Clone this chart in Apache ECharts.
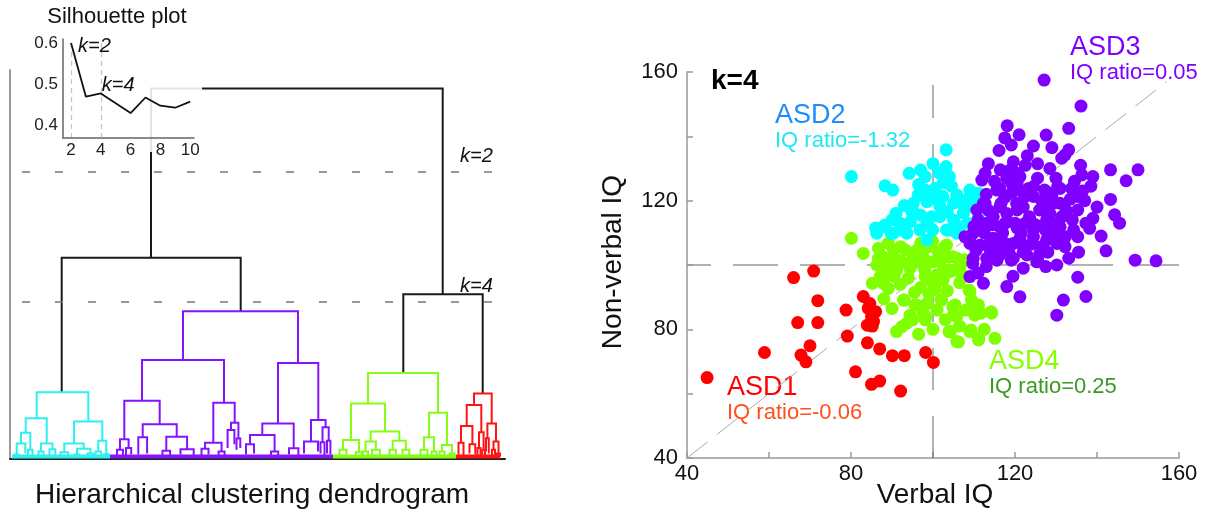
<!DOCTYPE html>
<html>
<head>
<meta charset="utf-8">
<script src="https://cdn.jsdelivr.net/npm/echarts@6/dist/echarts.min.js"></script>
<style>html,body{margin:0;padding:0;background:#fff;}#c{width:1209px;height:517px;}</style>
</head>
<body>
<div id="c"></div>
<script>
// ---------------- DATA ----------------
// Dendrogram links: [xLeft, xRight, mergeHeight, leftChildHeight, rightChildHeight, colorIndex]
const dendroLinks = [
  [141, 432.7, 100, 54.3, 44.5, 0],
  [51.7, 230.7, 54.3, 18.0, 39.9, 0],
  [393.3, 472.7, 44.5, 23.2, 17.7, 0],
  // cyan
  [26.7, 78.3, 18.0, 11.0, 10.1, 1],
  [15.7, 36.7, 11.0, 7.1, 4.2, 1],
  [11, 20.3, 7.1, 4.2, 2.5, 1],
  [6.7, 15.3, 4.2, 1.2, 1.5, 1],
  [4.5, 8.9, 1.2, 0.6, 0.6, 1],
  [18, 22.6, 2.5, 0.8, 1.0, 1],
  [31, 42.4, 4.2, 2.0, 2.6, 1],
  [28.5, 33.5, 2.0, 0.8, 0.8, 1],
  [39.5, 45.3, 2.6, 1.0, 0.8, 1],
  [64, 92.3, 10.1, 4.2, 4.9, 1],
  [54.3, 73.7, 4.2, 1.8, 2.8, 1],
  [50.5, 58.1, 1.8, 0.8, 0.8, 1],
  [67, 80.4, 2.8, 1.2, 1.5, 1],
  [64.5, 69.5, 1.2, 0.6, 0.6, 1],
  [77.5, 83.3, 1.5, 0.6, 0.6, 1],
  [88.3, 96.3, 4.9, 2.0, 1.3, 1],
  [85.5, 91.1, 2.0, 0.8, 0.8, 1],
  [94, 98.6, 1.3, 0.6, 0.6, 1],
  // purple
  [173, 288, 39.9, 26.7, 25.9, 2],
  [132, 214, 26.7, 15.7, 15.2, 2],
  [114.3, 149.7, 15.7, 5.3, 9.4, 2],
  [110, 118.6, 5.3, 2.5, 3.0, 2],
  [107, 113, 2.5, 1.0, 0.8, 2],
  [116, 121.2, 3.0, 1.0, 1.2, 2],
  [132.7, 166.7, 9.4, 5.9, 6.0, 2],
  [128.3, 137.1, 5.9, 1.2, 1.5, 2],
  [156.3, 177.1, 6.0, 2.2, 2.6, 2],
  [152.5, 160.1, 2.2, 0.8, 1.0, 2],
  [170.5, 183.7, 2.6, 1.2, 1.0, 2],
  [203.3, 224.7, 15.2, 4.4, 9.8, 2],
  [195, 211.6, 4.4, 2.8, 2.0, 2],
  [191.5, 198.5, 2.8, 1.0, 1.2, 2],
  [208.6, 214.6, 2.0, 0.8, 0.8, 2],
  [221, 228.4, 9.8, 7.8, 5.5, 2],
  [217.6, 224.4, 7.8, 3.0, 4.0, 2],
  [226.5, 230.3, 5.5, 2.5, 3.0, 2],
  [268, 308.3, 25.9, 9.6, 10.5, 2],
  [252.3, 283.7, 9.6, 6.5, 2.9, 2],
  [240, 264.6, 6.5, 4.0, 2.0, 2],
  [236, 244, 4.0, 1.2, 1.5, 2],
  [261, 268.2, 2.0, 0.8, 1.0, 2],
  [279, 288.4, 2.9, 1.2, 1.0, 2],
  [301, 315.6, 10.5, 4.7, 8.6, 2],
  [294, 308, 4.7, 1.5, 2.0, 2],
  [312.5, 318.7, 8.6, 4.5, 4.9, 2],
  [310.5, 314.5, 4.5, 1.5, 1.0, 2],
  [317, 320.4, 4.9, 1.5, 1.2, 2],
  // green
  [358, 428, 23.2, 15.0, 12.5, 3],
  [341, 375, 15.0, 5.1, 7.4, 3],
  [333, 349, 5.1, 2.5, 1.8, 3],
  [329.5, 336.5, 2.5, 1.0, 1.2, 3],
  [346, 352, 1.8, 0.8, 0.8, 3],
  [360.7, 389.3, 7.4, 4.7, 4.9, 3],
  [355.5, 365.9, 4.7, 2.0, 2.5, 3],
  [353, 358, 2.0, 0.8, 0.8, 3],
  [362, 369.8, 2.5, 1.0, 1.0, 3],
  [382.7, 395.9, 4.9, 2.5, 2.5, 3],
  [379.5, 385.9, 2.5, 1.0, 1.2, 3],
  [392.5, 399.3, 2.5, 1.2, 1.0, 3],
  [419, 437, 12.5, 5.9, 3.8, 3],
  [414, 424, 5.9, 2.5, 2.0, 3],
  [410.5, 417.5, 2.5, 1.0, 1.0, 3],
  [421.5, 426.5, 2.0, 0.8, 0.8, 3],
  [432, 442, 3.8, 2.0, 1.5, 3],
  [429.5, 434.5, 2.0, 0.8, 0.8, 3],
  [439.5, 444.5, 1.5, 0.6, 0.6, 3],
  // red
  [464, 481.7, 17.7, 14.6, 9.6, 4],
  [456.7, 471.3, 14.6, 8.9, 7.2, 4],
  [451, 462.4, 8.9, 4.4, 4.0, 4],
  [448.5, 453.5, 4.4, 1.2, 1.0, 4],
  [459.5, 465.3, 4.0, 1.5, 1.2, 4],
  [469, 473.6, 7.2, 3.0, 2.5, 4],
  [467.5, 470.5, 3.0, 1.0, 1.0, 4],
  [472.2, 475, 2.5, 1.0, 1.0, 4],
  [477.4, 486, 9.6, 5.6, 4.7, 4],
  [476, 478.8, 5.6, 2.0, 1.5, 4],
  [483.5, 488.5, 4.7, 2.5, 1.5, 4],
  [482, 485, 2.5, 1.0, 1.0, 4],
  [487, 490, 1.5, 0.6, 0.6, 4]
];
// Leaf bands per cluster: [xStart, xEnd, colorIndex]
const dendroLeafBands = [[2, 100, 1], [100, 323, 2], [323, 446, 3], [446, 490, 4]];
// Cut levels
const dendroCuts = [[77.5, 'k=2'], [42.4, 'k=4']];

// Silhouette inset
const silK = [2, 3, 4, 5, 6, 7, 8, 9, 10];
const silVal = [0.600, 0.469, 0.477, 0.453, 0.429, 0.467, 0.447, 0.442, 0.457];
const silMarks = [2, 4];

// Scatter: [Verbal IQ, Non-verbal IQ]
const asd1 = [[44.9,65.0],[58.9,72.8],[66.0,96.1],[70.9,98.1],[71.9,88.9],[67.0,82.1],[71.9,82.1],[70.0,74.9],[67.8,72.0],[69.0,69.9],[78.8,86.0],[79.1,77.9],[83.0,90.2],[84.2,86.5],[85.0,83.9],[84.0,81.3],[85.2,81.0],[84.0,75.8],[87.0,73.9],[90.1,71.8],[93.0,71.8],[98.2,72.8],[100.1,69.7],[81.1,66.8],[85.0,62.9],[87.0,63.9],[92.1,60.8],[84.6,88.0],[86.0,85.5],[85.5,82.5]];
const asd4 = [[80.1,108.3],[83.0,103.6],[86.7,105.2],[86.7,102.1],[89.1,106.8],[92.1,105.7],[97.0,106.8],[99.9,107.3],[102.9,105.7],[104.8,102.6],[107.8,101.6],[87.6,102.6],[91.1,101.6],[95.0,100.5],[98.0,98.5],[103.9,98.5],[90.3,104.7],[89.9,102.1],[93.2,104.7],[95.2,102.6],[92.4,101.0],[91.1,98.4],[94.4,99.0],[97.6,102.6],[98.9,105.7],[101.3,104.1],[103.3,106.2],[103.7,102.6],[105.8,102.1],[101.7,101.0],[106.6,99.0],[104.2,97.9],[100.9,96.9],[98.1,96.4],[102.5,95.3],[99.7,94.8],[87.1,96.4],[86.3,100.0],[89.1,92.7],[87.9,94.3],[92.8,89.1],[95.6,87.6],[97.6,85.0],[98.1,82.9],[94.4,84.4],[102.1,89.1],[105.4,87.6],[105.0,84.4],[109.0,91.7],[109.4,89.1],[111.1,87.6],[110.2,84.4],[114.3,85.0],[104.2,79.3],[106.2,76.1],[109.0,79.3],[111.1,76.7],[115.1,77.2],[91.1,79.3],[93.6,81.9],[92.4,80.8],[85.2,94.3],[93.0,89.1],[96.0,87.6],[98.2,84.0],[101.9,89.1],[104.8,87.0],[105.8,84.0],[108.8,92.2],[109.7,88.1],[111.7,85.0],[114.2,85.5],[103.9,79.3],[105.8,76.2],[109.3,79.8],[111.2,77.2],[95.0,82.9],[99.0,91.0],[97.0,93.0],[100.0,101.0],[96.0,104.5],[94.0,96.0],[100.5,92.5],[97.5,100.0],[106.5,94.5],[103.5,92.0],[90.5,96.5],[88.5,99.5],[89.0,97.5],[92.0,94.0],[95.5,91.5],[98.5,88.0],[101.0,86.0],[103.0,83.0],[100.0,80.0],[96.5,78.5],[106.5,81.0],[108.0,86.0],[112.5,80.0],[88.0,89.5],[90.0,86.5],[102.5,98.0],[107.0,97.0]];
const asd2 = [[80.1,127.5],[103.2,135.8],[103.2,130.6],[101.6,128.5],[98.1,127.5],[94.2,128.5],[88.3,124.6],[90.2,123.3],[98.1,123.3],[100.5,123.8],[96.4,121.8],[98.5,119.7],[95.2,119.2],[105.8,121.8],[109.0,123.3],[111.1,122.3],[105.0,119.2],[107.4,118.6],[110.2,119.7],[94.8,116.6],[91.0,116.1],[88.3,112.4],[86.3,109.9],[90.3,109.9],[93.6,109.9],[96.8,110.9],[99.7,115.0],[101.7,115.0],[105.0,114.0],[107.4,116.1],[103.3,110.9],[105.8,109.9],[98.5,107.8],[92.0,113.0],[98.5,113.0],[101.7,118.2],[88.1,112.0],[92.1,110.9],[95.0,117.1],[102.4,121.3],[107.8,117.1],[103.9,110.9],[99.9,110.9],[102.5,125.5],[100.0,131.5],[104.5,124.5],[96.5,125.0],[108.5,113.0],[111.0,114.5],[94.5,113.5],[89.8,109.8],[86.0,111.5],[90.0,114.0],[93.0,118.5],[97.0,115.5],[100.0,120.5],[103.5,116.5],[106.5,112.0],[108.5,120.5],[104.0,127.5],[97.0,129.5]];
const asd3 = [[127.1,157.5],[136.1,149.4],[118.1,143.3],[127.6,140.4],[133.1,142.5],[119.1,137.3],[116.1,135.6],[133.1,135.8],[131.4,133.2],[119.6,132.1],[112.7,128.5],[116.4,129.6],[120.5,128.5],[136.3,128.0],[143.3,129.6],[150.0,129.6],[147.1,126.2],[127.2,123.3],[133.8,123.8],[143.3,120.4],[144.3,115.6],[149.3,101.5],[154.4,101.3],[142.2,104.4],[138.2,111.4],[135.3,108.8],[130.2,106.7],[133.1,102.1],[125.5,101.5],[122.0,104.1],[119.1,101.5],[115.6,101.5],[109.7,100.5],[107.8,108.8],[110.7,117.1],[112.7,119.2],[115.6,123.3],[119.1,122.3],[122.5,121.3],[126.0,117.1],[129.4,119.2],[131.4,115.0],[134.3,110.9],[127.4,110.9],[124.5,110.9],[121.5,109.9],[117.6,113.0],[114.7,115.0],[111.7,111.9],[113.7,106.7],[117.6,106.7],[121.5,106.7],[126.4,105.7],[123.5,115.0],[120.5,117.1],[130.4,124.4],[135.3,121.3],[135.3,117.1],[137.3,113.0],[130.4,111.9],[132.3,108.8],[116.6,119.2],[124.5,124.4],[120.5,125.4],[132.2,134.2],[118.8,129.5],[121.2,127.5],[116.3,123.8],[119.2,125.4],[123.3,123.8],[127.7,122.8],[131.0,123.8],[111.9,126.4],[112.3,119.2],[116.3,118.1],[120.4,119.2],[124.5,121.3],[127.3,118.1],[131.0,119.2],[113.1,113.0],[116.3,111.9],[120.0,113.0],[123.7,114.0],[127.7,114.0],[131.0,111.9],[109.8,109.9],[109.0,106.7],[115.5,107.8],[119.6,106.7],[124.5,108.8],[127.7,107.8],[131.8,106.7],[109.0,108.3],[111.5,106.2],[114.7,108.3],[121.2,108.3],[131.0,108.8],[109.8,102.1],[113.1,102.1],[116.3,103.1],[119.6,102.1],[122.9,103.1],[125.3,101.0],[130.2,100.0],[132.2,105.7],[109.0,96.4],[112.3,94.3],[118.0,93.3],[121.2,90.1],[131.8,89.1],[130.2,84.4],[135.3,96.2],[137.3,90.2],[113.0,122.0],[118.0,116.0],[122.0,118.0],[125.0,112.5],[128.5,116.0],[134.0,114.0],[117.0,110.0],[111.0,114.0],[114.0,104.5],[128.0,104.0],[137.0,120.0],[140.0,118.0],[138.5,124.5],[125.5,127.0],[122.5,131.0],[117.5,139.5],[128.5,130.0],[123.0,134.0],[129.0,136.5],[139.0,127.5],[113.5,131.5],[145.5,113.0],[110.5,104.5],[112.5,110.0],[114.5,112.5],[116.0,106.0],[118.5,104.0],[120.5,111.5],[122.5,113.0],[124.0,106.5],[126.0,103.5],[128.5,109.5],[129.5,113.0],[132.5,117.0],[133.5,120.5],[129.0,121.5],[126.5,120.0],[121.5,123.0],[117.5,121.0],[113.5,117.0],[110.0,112.0],[115.0,126.0],[118.0,127.0],[125.5,131.5],[130.0,127.0],[134.5,126.0],[136.5,123.0],[139.0,114.5],[141.0,109.0],[135.5,104.0],[127.5,99.5],[122.0,99.0],[113.0,99.5],[111.0,97.5],[119.5,96.5],[136.0,131.0],[124.5,137.0],[121.0,140.5]];
// Reference lines
const refVertical = [[100, 40], [100, 156]];
const refHorizontal = [[40, 100], [160, 100]];
const refDiagonal = [[40, 40], [157, 157]];

// ---------------- STYLE ----------------
const FONT = "'Liberation Sans', Arial, sans-serif";
const dendroColors = ['#1a1a1a', '#2ef0f0', '#8414ff', '#84ff14', '#ff1414'];
const clusterColors = { asd1: '#ff0000', asd2: '#00ffff', asd3: '#8000ff', asd4: '#80ff00' };

const chart = echarts.init(document.getElementById('c'));

function linkRender(params, api) {
  const xL = api.value(0), xR = api.value(1), h = api.value(2), hL = api.value(3), hR = api.value(4), c = api.value(5);
  return {
    type: 'polyline',
    shape: { points: [api.coord([xL, hL]), api.coord([xL, h]), api.coord([xR, h]), api.coord([xR, hR])] },
    style: { stroke: dendroColors[c], lineWidth: 2, fill: null }
  };
}
function bandRender(params, api) {
  const a = api.coord([api.value(0), 0.7]), b = api.coord([api.value(1), 0.7]);
  return { type: 'line', shape: { x1: a[0], y1: a[1], x2: b[0], y2: b[1] }, style: { stroke: dendroColors[api.value(2)], lineWidth: 4 } };
}
function cutRender(params, api) {
  const a = api.coord([api.value(0), api.value(2)]), b = api.coord([api.value(1), api.value(2)]);
  return {
    type: 'group',
    children: [
      { type: 'line', shape: { x1: a[0], y1: a[1], x2: b[0], y2: b[1] }, style: { stroke: '#777', lineWidth: 1.5, lineDash: [8, 25] } },
      { type: 'text', x: b[0] - 40, y: a[1] - 15, style: { text: dendroCuts[params.dataIndex][1], fontStyle: 'italic', fontSize: 20, fontFamily: FONT, fill: '#111', textAlign: 'left', textVerticalAlign: 'middle' } }
    ]
  };
}
function silMarkRender(params, api) {
  const p = api.coord([api.value(0), api.value(1)]);
  const first = params.dataIndex === 0;
  return { type: 'text', x: p[0] + (first ? 7 : 1), y: p[1] + (first ? 3 : -8),
    style: { text: 'k=' + api.value(0), fontStyle: 'italic', fontSize: 20, fontFamily: FONT, fill: '#111', textAlign: 'left', textVerticalAlign: 'middle' } };
}
// semi-transparent white panel behind the inset, with its title (layout only)
function coverRender() {
  return { type: 'group', children: [
    { type: 'rect', shape: { x: 20, y: 0, width: 182, height: 152 }, style: { fill: 'rgba(255,255,255,0.88)' } },
    { type: 'text', x: 117, y: 17, style: { text: 'Silhouette plot', fontSize: 22, fontFamily: FONT, fill: '#111', textAlign: 'center', textVerticalAlign: 'middle' } }
  ] };
}

const option = {
  animation: false,
  backgroundColor: '#fff',
  grid: [
    { left: 10, top: 70, width: 495, height: 389 },
    { left: 63, top: 39, width: 131, height: 99 },
    { left: 687, top: 72, right: 30, bottom: 59 }
  ],
  xAxis: [
    { gridIndex: 0, type: 'value', min: 0, max: 495, axisLine: { show: true, lineStyle: { color: '#222', width: 2 } }, axisTick: { show: false }, axisLabel: { show: false }, splitLine: { show: false } },
    { gridIndex: 1, type: 'value', min: 1.46, max: 10.26, z: 20,
      axisLine: { show: true, lineStyle: { color: '#666', width: 1.5 } }, axisTick: { show: false }, splitLine: { show: false },
      axisLabel: { customValues: [2, 4, 6, 8, 10], fontSize: 17, color: '#222', fontFamily: FONT, margin: 4 } },
    { gridIndex: 2, type: 'value', min: 40, max: 160, interval: 20,
      axisLine: { show: true, lineStyle: { color: '#999', width: 1.5 } },
      axisTick: { show: true, inside: true, length: 6, lineStyle: { color: '#999', width: 1.5 } },
      splitLine: { show: false },
      axisLabel: { fontSize: 22, color: '#111', fontFamily: FONT, margin: 5, formatter: v => (v % 40 === 0 ? String(v) : '') } }
  ],
  yAxis: [
    { gridIndex: 0, type: 'value', min: 0, max: 105, axisLine: { show: true, lineStyle: { color: '#999', width: 2 } }, axisTick: { show: false }, axisLabel: { show: false }, splitLine: { show: false } },
    { gridIndex: 1, type: 'value', min: 0.368, max: 0.61, z: 20,
      axisLine: { show: true, lineStyle: { color: '#666', width: 1.5 } }, axisTick: { show: false }, splitLine: { show: false },
      axisLabel: { customValues: [0.4, 0.5, 0.6], formatter: v => v.toFixed(1), fontSize: 17, color: '#222', fontFamily: FONT, margin: 5 } },
    { gridIndex: 2, type: 'value', min: 40, max: 160, interval: 20,
      axisLine: { show: true, lineStyle: { color: '#999', width: 1.5 } },
      axisTick: { show: true, inside: true, length: 6, lineStyle: { color: '#999', width: 1.5 } },
      splitLine: { show: false },
      axisLabel: { fontSize: 22, color: '#111', fontFamily: FONT, margin: 9, formatter: v => (v % 40 === 0 ? String(v) : '') } }
  ],
  graphic: {
    elements: [
      { type: 'text', x: 252, y: 495, style: { text: 'Hierarchical clustering dendrogram', fontSize: 28, fontFamily: FONT, fill: '#111', textAlign: 'center', textVerticalAlign: 'middle' } },
      { type: 'text', x: 935, y: 495, style: { text: 'Verbal IQ', fontSize: 28, fontFamily: FONT, fill: '#111', textAlign: 'center', textVerticalAlign: 'middle' } },
      { type: 'text', x: 613, y: 262, rotation: Math.PI / 2, style: { text: 'Non-verbal IQ', fontSize: 28, fontFamily: FONT, fill: '#111', textAlign: 'center', textVerticalAlign: 'middle' } },
      { type: 'text', x: 711, y: 81, style: { text: 'k=4', fontSize: 28, fontWeight: 'bold', fontFamily: FONT, fill: '#000', textAlign: 'left', textVerticalAlign: 'middle' } },
      { type: 'text', x: 1070, y: 48, style: { text: 'ASD3', fontSize: 27, fontFamily: FONT, fill: '#8000ff', textAlign: 'left', textVerticalAlign: 'middle' } },
      { type: 'text', x: 1070, y: 73, style: { text: 'IQ ratio=0.05', fontSize: 22, fontFamily: FONT, fill: '#8000ff', textAlign: 'left', textVerticalAlign: 'middle' } },
      { type: 'text', x: 775, y: 116, style: { text: 'ASD2', fontSize: 27, fontFamily: FONT, fill: '#1e8cff', textAlign: 'left', textVerticalAlign: 'middle' } },
      { type: 'text', x: 775, y: 141, style: { text: 'IQ ratio=-1.32', fontSize: 22, fontFamily: FONT, fill: '#1ee8f2', textAlign: 'left', textVerticalAlign: 'middle' } },
      { type: 'text', x: 727, y: 388, style: { text: 'ASD1', fontSize: 27, fontFamily: FONT, fill: '#ff0000', textAlign: 'left', textVerticalAlign: 'middle' } },
      { type: 'text', x: 727, y: 413, style: { text: 'IQ ratio=-0.06', fontSize: 22, fontFamily: FONT, fill: '#ff4f1f', textAlign: 'left', textVerticalAlign: 'middle' } },
      { type: 'text', x: 989, y: 362, style: { text: 'ASD4', fontSize: 27, fontFamily: FONT, fill: '#88ff00', textAlign: 'left', textVerticalAlign: 'middle' } },
      { type: 'text', x: 989, y: 387, style: { text: 'IQ ratio=0.25', fontSize: 22, fontFamily: FONT, fill: '#3a9a22', textAlign: 'left', textVerticalAlign: 'middle' } }
    ]
  },
  series: [
    { type: 'custom', xAxisIndex: 0, yAxisIndex: 0, z: 1, silent: true, renderItem: bandRender, data: dendroLeafBands, encode: { x: [0, 1] } },
    { type: 'custom', xAxisIndex: 0, yAxisIndex: 0, z: 1, silent: true, renderItem: linkRender, data: dendroLinks, encode: { x: [0, 1], y: [2, 3, 4] } },
    { type: 'custom', xAxisIndex: 0, yAxisIndex: 0, z: 1, silent: true, renderItem: cutRender, data: dendroCuts.map(c => [12, 490, c[0]]), encode: { x: [0, 1], y: 2 } },
    { type: 'custom', coordinateSystem: 'none', z: 4, silent: true, renderItem: coverRender, data: [[0]] },
    { type: 'line', xAxisIndex: 1, yAxisIndex: 1, z: 10, data: silK.map((k, i) => [k, silVal[i]]), showSymbol: false,
      lineStyle: { color: '#111', width: 1.8 },
      markLine: { silent: true, symbol: 'none', label: { show: false }, lineStyle: { color: '#c4c4c4', type: [5, 4], width: 1.2 }, data: silMarks.map(k => ({ xAxis: k })) } },
    { type: 'custom', xAxisIndex: 1, yAxisIndex: 1, z: 11, silent: true, renderItem: silMarkRender,
      data: silMarks.map(k => [k, silVal[silK.indexOf(k)]]), encode: { x: 0, y: 1 } },
    { type: 'line', xAxisIndex: 2, yAxisIndex: 2, data: refHorizontal, showSymbol: false, silent: true, lineStyle: { color: '#999', width: 1.5, type: [45, 22], dashOffset: 21 } },
    { type: 'line', xAxisIndex: 2, yAxisIndex: 2, data: refVertical, showSymbol: false, silent: true, lineStyle: { color: '#666', width: 1, type: [42, 26] } },
    { type: 'line', xAxisIndex: 2, yAxisIndex: 2, data: refDiagonal, showSymbol: false, silent: true, lineStyle: { color: '#aaa', width: 1, type: [26, 12] } },
    { type: 'scatter', xAxisIndex: 2, yAxisIndex: 2, data: asd1, symbolSize: 13, itemStyle: { color: clusterColors.asd1, opacity: 1 }, z: 3 },
    { type: 'scatter', xAxisIndex: 2, yAxisIndex: 2, data: asd4, symbolSize: 13, itemStyle: { color: clusterColors.asd4, opacity: 1 }, z: 4 },
    { type: 'scatter', xAxisIndex: 2, yAxisIndex: 2, data: asd2, symbolSize: 13, itemStyle: { color: clusterColors.asd2, opacity: 1 }, z: 5 },
    { type: 'scatter', xAxisIndex: 2, yAxisIndex: 2, data: asd3, symbolSize: 13, itemStyle: { color: clusterColors.asd3, opacity: 1 }, z: 6 }
  ]
};
chart.setOption(option);
</script>
</body>
</html>
